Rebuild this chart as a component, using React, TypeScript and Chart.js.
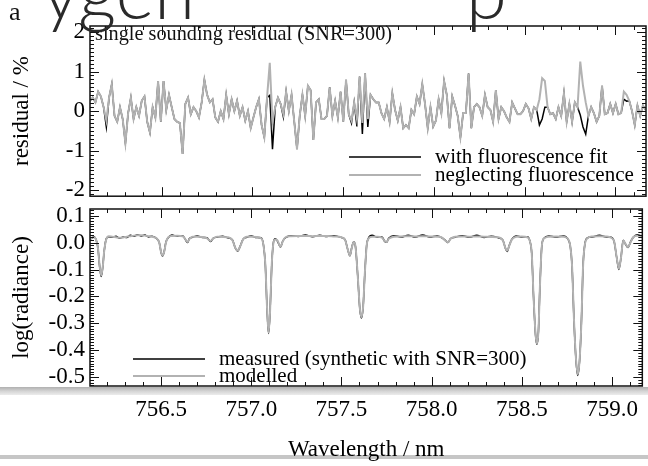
import React, { useEffect, useRef } from "react";
import { Chart, registerables } from "chart.js";

Chart.register(...registerables);

// ---------- axis ranges / tick labels ----------
const WL_MIN = 756.106;
const WL_MAX = 759.168;
const X_TICKS = [756.5, 757.0, 757.5, 758.0, 758.5, 759.0];
const RES_MIN = -2.15;
const RES_MAX = 2.15;
const RES_TICKS = [-2, -1, 0, 1, 2];
const LOG_MIN = -0.533;
const LOG_MAX = 0.125;
const LOG_TICKS = [-0.5, -0.4, -0.3, -0.2, -0.1, 0.0, 0.1];

// ---------- residual panel (uniform wavelength grid) ----------
const RES_START = 756.106;
const RES_STEP = 0.015;
const residualNeglecting = [
  0.26, 0.34, 0.22, 0.49, 0.37, 0.10, -0.24, 0.34, 0.68, -0.12,
  -0.27, 0.10, -0.20, -0.81, -0.05, 0.34, -0.20, 0.10, -0.12, 0.26,
  0.37, -0.27, -0.54, 0.10, -0.16, 0.76, -0.27, 0.76, 0.03, 0.41,
  0.10, -0.20, -0.27, -0.30, -1.08, 0.18, 0.34, -0.08, 0.10, 0.00,
  -0.16, 0.22, 0.79, 0.41, 0.22, 0.30, -0.16, -0.27, 0.00, -0.20,
  0.41, -0.08, 0.30, 0.00, 0.26, -0.12, 0.10, -0.24, 0.00, -0.43,
  -0.16, 0.10, 0.30, -0.35, -0.66, 0.34, 1.22, -0.27, 0.10, 0.34,
  0.18, -0.08, 0.49, 0.00, 0.41, -0.27, -0.96, -0.12, 0.41, -0.12,
  0.64, 0.53, -0.73, 0.22, 0.30, -0.20, -0.20, -0.12, 0.60, -0.12,
  0.26, -0.16, 0.49, -0.27, 0.79, -0.08, -0.24, 0.22, -0.20, 0.87,
  -0.30, 0.95, -0.20, 0.41, 0.30, 0.22, 0.22, -0.05, -0.20, 0.10,
  -0.27, 0.45, 0.03, -0.24, 0.10, -0.43, -0.35, -0.43, 0.03, -0.08,
  0.37, 0.18, 0.68, 0.18, -0.43, 0.10, -0.39, -0.24, 0.30, -0.05,
  0.76, 0.41, -0.43, 0.37, 0.14, -0.12, -0.66, -0.05, -0.05, 0.95,
  -0.43, 0.10, 0.18, 0.10, -0.12, 0.41, 0.10, 0.03, -0.27, 0.53,
  -0.20, 0.10, 0.00, -0.16, -0.27, 0.22, 0.07, -0.08, -0.08, 0.00,
  0.18, 0.07, -0.20, 0.10, 0.03, 0.30, 0.83, 0.76, 0.10, -0.08,
  -0.05, -0.20, 0.10, -0.12, 0.45, -0.27, 0.18, -0.27, 0.22, 0.10,
  1.25, 0.64, 0.22, -0.12, 0.10, -0.05, -0.27, -0.12, 0.64, -0.08,
  -0.05, 0.18, -0.05, 0.18, -0.08, -0.05, 0.49, 0.41, 0.26, 0.00,
  -0.35, 0.14, -0.12, 0.14, 0.03,
];
const residualWithFit = [
  0.26, 0.34, 0.22, 0.49, 0.37, 0.10, -0.40, 0.34, 0.68, -0.12,
  -0.27, 0.10, -0.20, -0.81, -0.05, 0.34, -0.20, 0.10, -0.12, 0.26,
  0.37, -0.27, -0.54, 0.10, -0.16, 0.76, -0.27, 0.76, 0.03, 0.41,
  0.10, -0.20, -0.27, -0.30, -1.08, 0.18, 0.34, -0.08, 0.10, 0.00,
  -0.16, 0.22, 0.79, 0.41, 0.22, 0.30, -0.16, -0.27, 0.00, -0.20,
  0.41, -0.08, 0.30, 0.00, 0.26, -0.12, 0.10, -0.24, 0.00, -0.43,
  -0.16, 0.10, 0.30, -0.35, -0.66, 0.34, 0.40, -0.96, 0.10, 0.34,
  0.18, -0.15, 0.49, 0.00, 0.41, -0.27, -0.96, -0.12, 0.41, -0.12,
  0.64, 0.53, -0.73, 0.22, 0.30, -0.20, -0.20, -0.12, 0.60, -0.12,
  0.26, -0.16, 0.49, -0.27, 0.79, -0.08, -0.30, 0.22, -0.39, 0.87,
  -0.58, 0.95, -0.40, 0.41, 0.30, 0.22, 0.22, -0.05, -0.20, 0.10,
  -0.27, 0.45, 0.03, -0.24, 0.10, -0.43, -0.35, -0.43, 0.03, -0.08,
  0.37, 0.18, 0.68, 0.18, -0.43, 0.10, -0.39, -0.24, 0.30, -0.05,
  0.76, 0.41, -0.43, 0.37, 0.14, -0.12, -0.66, -0.05, -0.05, 0.95,
  -0.43, 0.10, 0.18, 0.10, -0.12, 0.41, 0.10, 0.03, -0.27, 0.53,
  -0.20, 0.10, 0.00, -0.16, -0.27, 0.22, 0.07, -0.08, -0.08, 0.00,
  0.18, 0.07, -0.20, 0.10, 0.03, -0.35, -0.20, 0.10, 0.10, -0.08,
  -0.05, -0.20, 0.10, -0.12, 0.45, -0.27, 0.18, -0.27, 0.22, 0.10,
  -0.10, -0.40, -0.58, -0.12, 0.10, -0.05, -0.27, -0.12, 0.64, -0.08,
  -0.05, 0.18, -0.05, 0.18, -0.08, -0.05, 0.30, 0.25, 0.26, 0.00,
  -0.35, 0.14, -0.12, 0.14, 0.03,
];

// ---------- spectrum panel ----------
const specWavelength = [
  756.106, 756.115, 756.128, 756.140, 756.150, 756.160, 756.168, 756.176, 756.185, 756.196,
  756.210, 756.230, 756.250, 756.270, 756.290, 756.310, 756.330, 756.350, 756.370, 756.390,
  756.410, 756.430, 756.450, 756.475, 756.490, 756.500, 756.508, 756.517, 756.527, 756.540,
  756.560, 756.590, 756.620, 756.635, 756.646, 756.658, 756.675, 756.700, 756.730, 756.755,
  756.774, 756.790, 756.810, 756.840, 756.870, 756.895, 756.912, 756.925, 756.938, 756.955,
  756.975, 757.000, 757.030, 757.055, 757.068, 757.078, 757.088, 757.096, 757.104, 757.113,
  757.122, 757.132, 757.145, 757.162, 757.175, 757.190, 757.220, 757.260, 757.300, 757.340,
  757.380, 757.420, 757.460, 757.500, 757.520, 757.535, 757.547, 757.557, 757.568, 757.578,
  757.590, 757.602, 757.611, 757.620, 757.630, 757.640, 757.650, 757.670, 757.700, 757.725,
  757.740, 757.750, 757.762, 757.790, 757.830, 757.870, 757.910, 757.950, 757.990, 758.030,
  758.060, 758.078, 758.090, 758.105, 758.130, 758.170, 758.210, 758.250, 758.290, 758.330,
  758.370, 758.395, 758.410, 758.419, 758.430, 758.445, 758.470, 758.500, 758.530, 758.545,
  758.555, 758.565, 758.576, 758.584, 758.592, 758.600, 758.610, 758.622, 758.650, 758.690,
  758.730, 758.755, 758.768, 758.778, 758.790, 758.800, 758.810, 758.820, 758.830, 758.840,
  758.850, 758.862, 758.890, 758.930, 758.970, 758.995, 759.012, 759.026, 759.038, 759.050,
  759.062, 759.075, 759.089, 759.102, 759.117, 759.140, 759.168,
];
const specModelled = [
  0.012, 0.018, 0.020, 0.010, -0.020, -0.090, -0.122, -0.095, -0.030, 0.012,
  0.024, 0.022, 0.020, 0.018, 0.019, 0.022, 0.024, 0.026, 0.027, 0.027,
  0.026, 0.024, 0.022, 0.016, 0.000, -0.035, -0.048, -0.035, 0.000, 0.020,
  0.025, 0.026, 0.024, 0.012, 0.002, 0.014, 0.022, 0.022, 0.021, 0.016,
  0.006, 0.016, 0.022, 0.021, 0.020, 0.010, -0.020, -0.030, -0.015, 0.012,
  0.022, 0.022, 0.021, 0.016, -0.010, -0.080, -0.250, -0.335, -0.260, -0.090,
  -0.005, 0.012, 0.008, -0.015, 0.005, 0.020, 0.024, 0.025, 0.025, 0.024,
  0.025, 0.025, 0.023, 0.020, 0.010, -0.025, -0.048, -0.020, 0.002, -0.015,
  -0.120, -0.245, -0.277, -0.240, -0.110, -0.010, 0.015, 0.022, 0.022, 0.018,
  0.006, 0.002, 0.014, 0.022, 0.023, 0.024, 0.023, 0.024, 0.023, 0.022,
  0.018, 0.006, 0.001, 0.014, 0.022, 0.023, 0.022, 0.023, 0.022, 0.021,
  0.020, 0.008, -0.022, -0.030, -0.012, 0.012, 0.022, 0.023, 0.020, 0.005,
  -0.040, -0.200, -0.340, -0.375, -0.330, -0.170, -0.020, 0.015, 0.022, 0.023,
  0.022, 0.015, -0.010, -0.080, -0.300, -0.430, -0.490, -0.440, -0.300, -0.080,
  -0.005, 0.015, 0.023, 0.024, 0.023, 0.018, 0.004, -0.055, -0.097, -0.055,
  0.008, -0.005, -0.017, 0.000, 0.020, 0.026, 0.026,
];
const specMeasured = [
  0.014, 0.016, 0.022, 0.010, -0.020, -0.092, -0.126, -0.095, -0.030, 0.014,
  0.022, 0.020, 0.024, 0.016, 0.021, 0.019, 0.027, 0.024, 0.029, 0.025,
  0.028, 0.021, 0.024, 0.015, 0.000, -0.036, -0.050, -0.034, 0.002, 0.018,
  0.028, 0.024, 0.026, 0.011, 0.000, 0.016, 0.020, 0.025, 0.019, 0.018,
  0.004, 0.017, 0.020, 0.024, 0.018, 0.011, -0.021, -0.032, -0.014, 0.013,
  0.020, 0.025, 0.019, 0.018, -0.010, -0.082, -0.252, -0.338, -0.262, -0.092,
  -0.004, 0.014, 0.006, -0.016, 0.006, 0.018, 0.026, 0.023, 0.028, 0.022,
  0.027, 0.023, 0.026, 0.019, 0.011, -0.026, -0.049, -0.019, 0.003, -0.016,
  -0.121, -0.247, -0.280, -0.241, -0.110, -0.008, 0.017, 0.027, 0.020, 0.021,
  0.004, 0.001, 0.016, 0.026, 0.021, 0.027, 0.021, 0.028, 0.021, 0.025,
  0.017, 0.007, 0.000, 0.015, 0.020, 0.026, 0.020, 0.027, 0.019, 0.024,
  0.018, 0.009, -0.023, -0.033, -0.011, 0.013, 0.025, 0.021, 0.022, 0.005,
  -0.041, -0.202, -0.343, -0.378, -0.331, -0.170, -0.019, 0.016, 0.025, 0.021,
  0.025, 0.014, -0.011, -0.081, -0.302, -0.433, -0.494, -0.441, -0.300, -0.079,
  -0.004, 0.017, 0.021, 0.027, 0.021, 0.020, 0.003, -0.056, -0.100, -0.055,
  0.009, -0.006, -0.018, 0.002, 0.019, 0.029, 0.024,
];

// ---------- styling ----------
const SERIF = '"Liberation Serif", "Times New Roman", serif';
const GREY = "#b2b2b2";
const AXIS_FONT = { family: SERIF, size: 23, lineHeight: 1.2 };

function framePlugin(yMin: number, yMax: number, yMinorStep: number, majorEvery: number) {
  return {
    id: "frame",
    afterDatasetsDraw(chart: any) {
      const { ctx, chartArea: a, scales } = chart;
      const xs = scales.x;
      const ys = scales.y;
      ctx.save();
      ctx.strokeStyle = "#111";
      ctx.lineWidth = 1;
      ctx.beginPath();
      for (let k = Math.ceil(WL_MIN * 10); k <= Math.floor(WL_MAX * 10); k++) {
        const px = Math.round(xs.getPixelForValue(k / 10)) + 0.5;
        const len = k % 5 === 0 ? 9 : 4;
        ctx.moveTo(px, a.bottom);
        ctx.lineTo(px, a.bottom - len);
        ctx.moveTo(px, a.top);
        ctx.lineTo(px, a.top + len);
      }
      const n0 = Math.ceil(yMin / yMinorStep - 1e-6);
      const n1 = Math.floor(yMax / yMinorStep + 1e-6);
      for (let k = n0; k <= n1; k++) {
        const py = Math.round(ys.getPixelForValue(k * yMinorStep)) + 0.5;
        const len = k % majorEvery === 0 ? 9 : 4;
        ctx.moveTo(a.left, py);
        ctx.lineTo(a.left + len, py);
        ctx.moveTo(a.right, py);
        ctx.lineTo(a.right - len, py);
      }
      ctx.stroke();
      ctx.lineWidth = 1.5;
      ctx.strokeRect(a.left, a.top, a.right - a.left, a.bottom - a.top);
      ctx.restore();
    },
  };
}

type LegendItem = { text: string; color: string; width: number; y: number };
function legendPlugin(items: LegendItem[], x0: number, x1: number, tx: number) {
  return {
    id: "innerLegend",
    afterDraw(chart: any) {
      const ctx = chart.ctx;
      ctx.save();
      ctx.font = `21px ${SERIF}`;
      ctx.textBaseline = "middle";
      ctx.fillStyle = "#000";
      for (const it of items) {
        ctx.strokeStyle = it.color;
        ctx.lineWidth = it.width;
        ctx.beginPath();
        ctx.moveTo(x0, it.y);
        ctx.lineTo(x1, it.y);
        ctx.stroke();
        ctx.fillText(it.text, tx, it.y);
      }
      ctx.restore();
    },
  };
}

const headerPlugin = {
  id: "header",
  afterDraw(chart: any) {
    const ctx = chart.ctx;
    ctx.save();
    ctx.fillStyle = "#111";
    ctx.font = `26px ${SERIF}`;
    ctx.textBaseline = "alphabetic";
    ctx.fillText("a", 9, 20);
    ctx.font = `20.3px ${SERIF}`;
    ctx.textBaseline = "top";
    ctx.fillText("single sounding residual (SNR=300)", 95, 25);
    ctx.fillStyle = "#2a2a2a";
    ctx.font = `300 74px Lato, "Open Sans", sans-serif`;
    ctx.textBaseline = "alphabetic";
    ctx.fillText("ygen", 42, 19);
    ctx.fillText("p", 466, 19);
    ctx.restore();
  },
};

function yAxis(min: number, max: number, ticks: number[], title: string, fmt: (v: number) => string) {
  return {
    type: "linear" as const,
    min,
    max,
    afterBuildTicks: (s: any) => {
      s.ticks = ticks.map((v) => ({ value: v }));
    },
    afterFit: (s: any) => {
      s.width = 90;
    },
    grid: { display: false, drawTicks: false },
    border: { display: false },
    ticks: {
      font: AXIS_FONT,
      color: "#000",
      padding: 5,
      autoSkip: false,
      callback: (v: any) => fmt(Number(v)),
    },
    title: { display: true, text: title, font: AXIS_FONT, color: "#000", padding: { top: 8, bottom: 0 } },
  };
}

export default function App() {
  const topRef = useRef<HTMLCanvasElement>(null);
  const botRef = useRef<HTMLCanvasElement>(null);

  useEffect(() => {
    document.body.style.margin = "0";
    const resX = residualNeglecting.map((_, i) => RES_START + i * RES_STEP);

    const top = new Chart(topRef.current!, {
      type: "line",
      data: {
        datasets: [
          {
            label: "with fluorescence fit",
            data: residualWithFit.map((v, i) => ({ x: resX[i], y: v })),
            borderColor: "#000",
            borderWidth: 1.5,
            pointRadius: 0,
            tension: 0,
            order: 1,
          },
          {
            label: "neglecting fluorescence",
            data: residualNeglecting.map((v, i) => ({ x: resX[i], y: v })),
            borderColor: GREY,
            borderWidth: 2,
            pointRadius: 0,
            tension: 0,
            order: 0,
          },
        ],
      },
      options: {
        responsive: false,
        animation: false,
        devicePixelRatio: 1,
        events: [],
        layout: { padding: { top: 26, right: 2, bottom: 16, left: 0 } },
        plugins: { legend: { display: false }, tooltip: { enabled: false } },
        scales: {
          x: { type: "linear", min: WL_MIN, max: WL_MAX, display: false },
          y: yAxis(RES_MIN, RES_MAX, RES_TICKS, "residual / %", (v) => String(v)),
        },
      },
      plugins: [
        framePlugin(RES_MIN, RES_MAX, 0.1, 10),
        headerPlugin,
        legendPlugin(
          [
            { text: "with fluorescence fit", color: "#000", width: 1.5, y: 157 },
            { text: "neglecting fluorescence", color: GREY, width: 2, y: 175 },
          ],
          349,
          421,
          435
        ),
      ],
    } as any);

    const bot = new Chart(botRef.current!, {
      type: "line",
      data: {
        datasets: [
          {
            label: "measured (synthetic with SNR=300)",
            data: specMeasured.map((v, i) => ({ x: specWavelength[i], y: v })),
            borderColor: "#000",
            borderWidth: 1.5,
            pointRadius: 0,
            cubicInterpolationMode: "monotone",
            order: 1,
          },
          {
            label: "modelled",
            data: specModelled.map((v, i) => ({ x: specWavelength[i], y: v })),
            borderColor: GREY,
            borderWidth: 2,
            pointRadius: 0,
            cubicInterpolationMode: "monotone",
            order: 0,
          },
        ],
      },
      options: {
        responsive: false,
        animation: false,
        devicePixelRatio: 1,
        events: [],
        layout: { padding: { top: 19, right: 2, bottom: 0, left: 0 } },
        plugins: { legend: { display: false }, tooltip: { enabled: false } },
        scales: {
          x: {
            type: "linear",
            min: WL_MIN,
            max: WL_MAX,
            position: "bottom",
            afterBuildTicks: (s: any) => {
              s.ticks = X_TICKS.map((v) => ({ value: v }));
            },
            afterFit: (s: any) => {
              s.height = 80;
            },
            grid: { display: false, drawTicks: false },
            border: { display: false },
            ticks: {
              font: AXIS_FONT,
              color: "#000",
              padding: 10,
              maxRotation: 0,
              autoSkip: false,
              callback: (v: any) => Number(v).toFixed(1),
            },
            title: {
              display: true,
              text: "Wavelength / nm",
              font: AXIS_FONT,
              color: "#000",
              padding: { top: 0, bottom: 2 },
            },
          },
          y: yAxis(LOG_MIN, LOG_MAX, LOG_TICKS, "log(radiance)", (v) => v.toFixed(1)),
        },
      },
      plugins: [
        framePlugin(LOG_MIN, LOG_MAX, 0.01, 10),
        legendPlugin(
          [
            { text: "measured (synthetic with SNR=300)", color: "#000", width: 1.5, y: 169 },
            { text: "modelled", color: GREY, width: 2, y: 186 },
          ],
          133,
          205,
          219
        ),
      ],
    } as any);

    return () => {
      top.destroy();
      bot.destroy();
    };
  }, []);

  return (
    <div style={{ position: "relative", width: 648, height: 466, background: "#fff", overflow: "hidden" }}>
      <div
        style={{
          position: "absolute",
          left: 0,
          top: 387,
          width: 648,
          height: 8,
          background: "linear-gradient(#b0b0b0, #d6d6d6 55%, #ececec)",
        }}
      />
      <div style={{ position: "absolute", left: 0, top: 455, width: 648, height: 4, background: "#c6c6c6" }} />
      <canvas ref={topRef} width={648} height={215} style={{ position: "absolute", left: 0, top: 0 }} />
      <canvas ref={botRef} width={648} height={276} style={{ position: "absolute", left: 0, top: 190 }} />
    </div>
  );
}
